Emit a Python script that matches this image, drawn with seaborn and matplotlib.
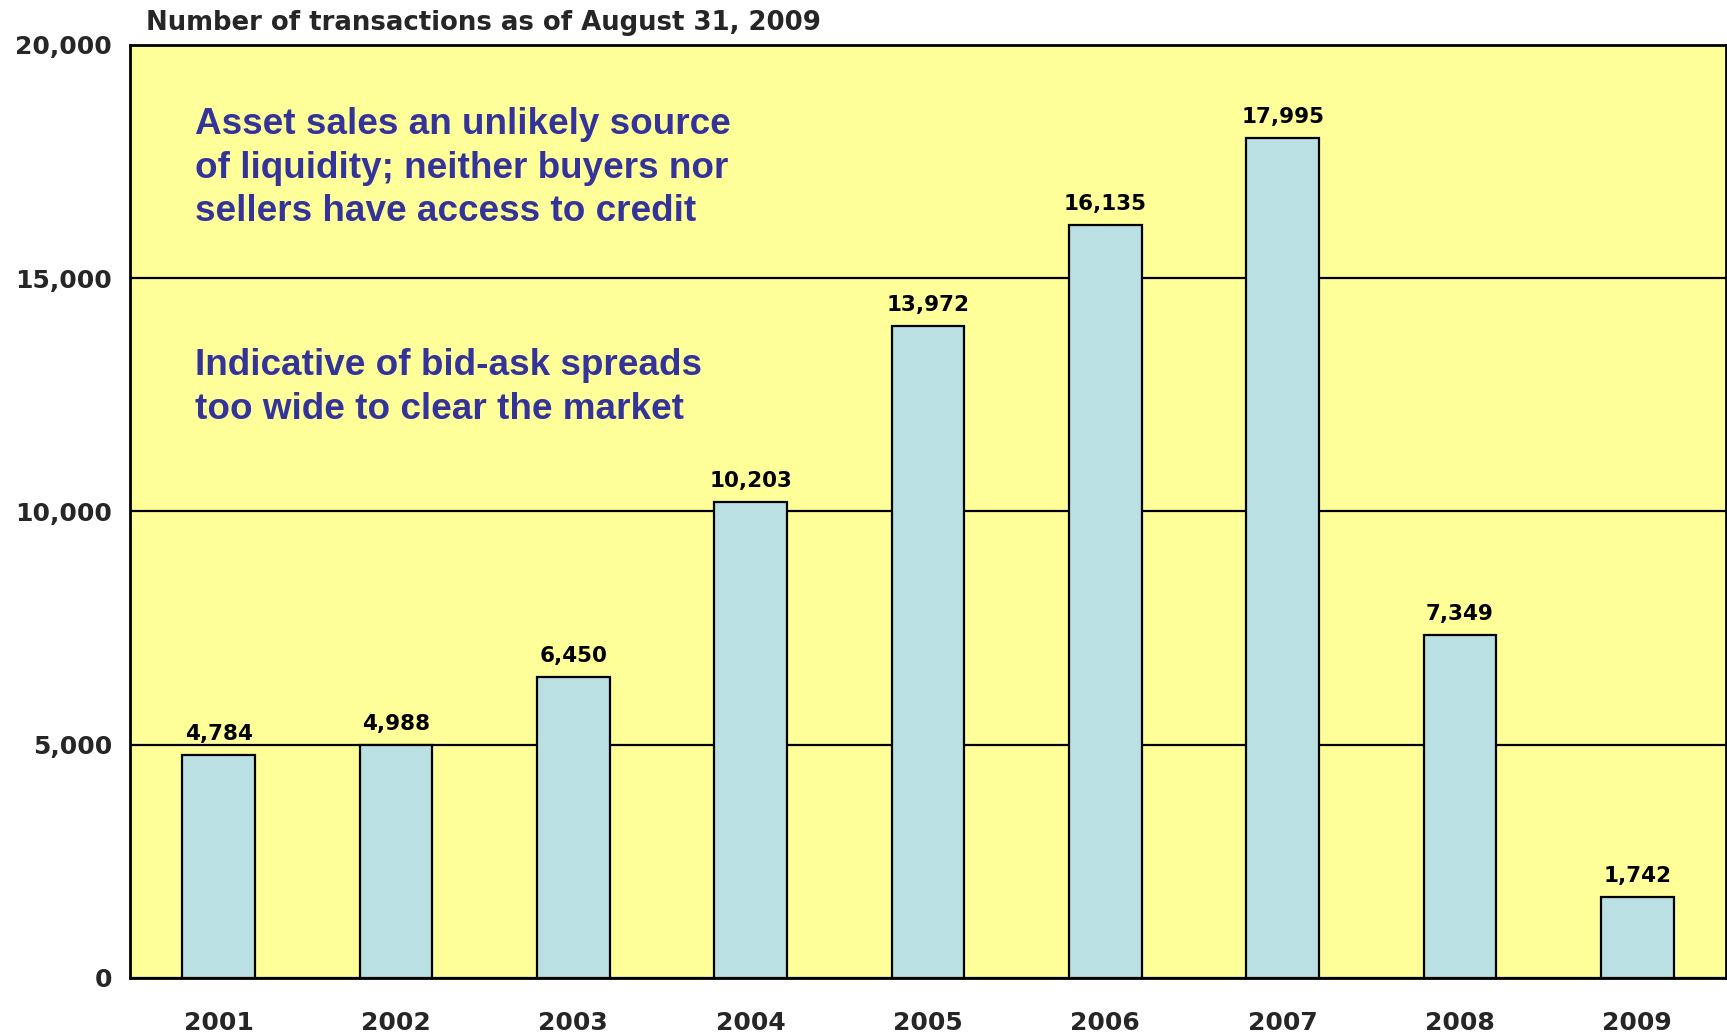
import matplotlib
matplotlib.use("Agg")
import matplotlib.pyplot as plt
import seaborn as sns
import pandas as pd
from matplotlib.ticker import FuncFormatter, FixedLocator

years = ["2001", "2002", "2003", "2004", "2005", "2006", "2007", "2008", "2009"]
transactions = [4784, 4988, 6450, 10203, 13972, 16135, 17995, 7349, 1742]
title_text = "Number of transactions as of August 31, 2009"
note1 = "Asset sales an unlikely source\nof liquidity; neither buyers nor\nsellers have access to credit"
note2 = "Indicative of bid-ask spreads\ntoo wide to clear the market"

df = pd.DataFrame({"year": years, "n": transactions})

sns.set_theme(style="white")
plt.rcParams["font.family"] = ["DejaVu Sans"]

fig = plt.figure(figsize=(17.27, 10.36), dpi=100)
ax = fig.add_axes([0.0753, 0.056, 0.9241, 0.9006])
ax.set_facecolor("#FFFF99")

sns.barplot(data=df, x="year", y="n", color="#BBE0E3", saturation=1, width=0.41,
            edgecolor="black", linewidth=1.6, ax=ax, zorder=3)

ax.set_ylim(0, 20000)
ax.set_xlim(-0.5, len(years) - 0.5)
ax.yaxis.set_major_locator(FixedLocator([0, 5000, 10000, 15000, 20000]))
ax.yaxis.set_major_formatter(FuncFormatter(lambda v, p: f"{int(v):,}"))
ax.grid(axis="y", color="black", linewidth=1.6, zorder=1)
ax.set_axisbelow(True)
for s in ax.spines.values():
    s.set_color("black")
    s.set_linewidth(2.0)

ax.tick_params(axis="y", length=0, pad=13, labelsize=18)
ax.tick_params(axis="x", which="major", length=0, pad=24, labelsize=18)
for lab in ax.get_yticklabels() + ax.get_xticklabels():
    lab.set_fontweight("bold")
ax.set_xticks([i - 0.5 for i in range(len(years) + 1)], minor=True)
ax.tick_params(axis="x", which="minor", length=10, width=1.5, color="black", direction="out")
ax.set_xlabel("")
ax.set_ylabel("")

for c in ax.containers:
    ax.bar_label(c, labels=[f"{v:,}" for v in transactions], padding=8,
                 fontsize=15.5, fontweight="bold", color="black")

fig.text(146 / 1727, 1 - 23 / 1036, title_text, fontsize=18.7, fontweight="bold",
         va="center", ha="left")

ax.text(0.0405, 0.933, note1, transform=ax.transAxes, fontsize=26.6, fontweight="bold",
        color="#333399", family="Liberation Sans", va="top", ha="left", linespacing=1.31)
ax.text(0.0405, 0.675, note2, transform=ax.transAxes, fontsize=26.6, fontweight="bold",
        color="#333399", family="Liberation Sans", va="top", ha="left", linespacing=1.31)

fig.savefig("out.png", dpi=100)
